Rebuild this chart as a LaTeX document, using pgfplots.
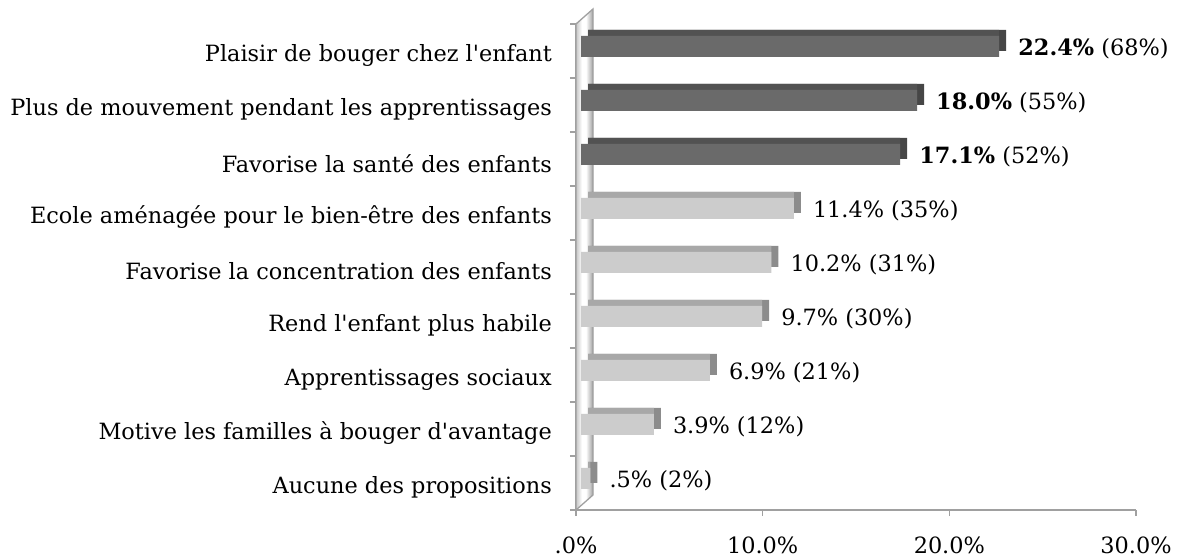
\documentclass[border=0pt]{standalone}
\usepackage{pgfplots}
\pgfplotsset{compat=1.18}
\usepackage{pgfplotstable}
\usepackage{fontspec}
\setmainfont{DejaVu Serif}
\definecolor{darkfront}{HTML}{6A6A6A}
\definecolor{darktop}{HTML}{525252}
\definecolor{darkside}{HTML}{464646}
\definecolor{lightfront}{HTML}{CCCCCC}
\definecolor{lighttop}{HTML}{A8A8A8}
\definecolor{lightside}{HTML}{8C8C8C}
\definecolor{axisgray}{HTML}{A0A0A0}
\pgfdeclarehorizontalshading{wall}{100bp}{color(0bp)=(gray!45); color(25bp)=(gray!45); color(42bp)=(white); color(54bp)=(white); color(75bp)=(gray!75); color(100bp)=(gray!75)}
\pgfplotstableread{
v y
22.4 9
18.0 8
17.1 7
}\darkdata
\pgfplotstableread{
v y
11.4 6
10.2 5
9.7 4
6.9 3
3.9 2
0.5 1
}\lightdata
\newcommand{\lbl}{\fontsize{22.4bp}{26bp}\selectfont}
\begin{document}
\lbl
\begin{tikzpicture}
\useasboundingbox (0,0) rectangle (1183bp,559bp);
\begin{axis}[
  at={(576bp,49bp)}, anchor=south west,
  scale only axis, width=560bp, height=486bp,
  xmin=0, xmax=30, ymin=0.5, ymax=9.5,
  clip=false,
  axis x line*=bottom, axis y line*=left,
  axis line style={axisgray, line width=1.3bp},
  xtick={0,10,20,30},
  xticklabels={.0\%,10.0\%,20.0\%,30.0\%},
  ytick={1,...,9},
  yticklabels={Aucune des propositions,
    Motive les familles à bouger d\textquotesingle avantage,
    Apprentissages sociaux,
    Rend l\textquotesingle enfant plus habile,
    Favorise la concentration des enfants,
    Ecole aménagée pour le bien-être des enfants,
    Favorise la santé des enfants,
    Plus de mouvement pendant les apprentissages,
    Plaisir de bouger chez l\textquotesingle enfant},
  minor xtick={0,10,20,30},
  minor ytick={0.5,1.5,...,9.5},
  major tick length=0pt,
  minor tick length=6bp,
  tick align=outside,
  minor tick style={axisgray, line width=1.3bp},
  tick label style={font=\lbl, text=black},
  yticklabel style={inner sep=0pt, xshift=-24bp, yshift=-4.5bp},
  xticklabel style={inner sep=0pt, yshift=-27bp},
]
\shadedraw[shading=wall, draw=axisgray, line width=1.3bp]
  (axis cs:0,0.5) -- (axis cs:0,9.5) -- ([xshift=17bp,yshift=15bp]axis cs:0,9.5)
  -- ([xshift=17bp,yshift=15bp]axis cs:0,0.5) -- cycle;
% dark bars
\addplot[xbar, bar shift=0pt, bar width=21bp, fill=darkside, draw=none, xshift=12bp, yshift=10.5bp] table[x=v, y=y] {\darkdata};
\addplot[xbar, bar shift=0pt, bar width=21bp, fill=darktop, draw=none, xshift=12bp, yshift=10.5bp, x filter/.expression={x-0.375}] table[x=v, y=y] {\darkdata};
\addplot[xbar, bar shift=0pt, bar width=21bp, fill=darkfront, draw=none, xshift=5bp, yshift=4.5bp] table[x=v, y=y] {\darkdata};
% light bars
\addplot[xbar, bar shift=0pt, bar width=21bp, fill=lightside, draw=none, xshift=12bp, yshift=10.5bp] table[x=v, y=y] {\lightdata};
\addplot[xbar, bar shift=0pt, bar width=21bp, fill=lighttop, draw=none, xshift=12bp, yshift=10.5bp, x filter/.expression={x-0.375}] table[x=v, y=y] {\lightdata};
\addplot[xbar, bar shift=0pt, bar width=21bp, fill=lightfront, draw=none, xshift=5bp, yshift=4.5bp] table[x=v, y=y] {\lightdata};
% value labels
\addplot[draw=none, mark=none, nodes near coords, point meta=explicit symbolic,
  every node near coord/.append style={anchor=west, inner sep=0pt, xshift=24bp, yshift=2.5bp, font=\lbl, text=black}]
  coordinates {
  (22.4,9) [{\textbf{22.4\%} (68\%)}]
  (18.0,8) [{\textbf{18.0\%} (55\%)}]
  (17.1,7) [{\textbf{17.1\%} (52\%)}]
  (11.4,6) [{11.4\% (35\%)}]
  (10.2,5) [{10.2\% (31\%)}]
  (9.7,4) [{9.7\% (30\%)}]
  (6.9,3) [{6.9\% (21\%)}]
  (3.9,2) [{3.9\% (12\%)}]
  (0.5,1) [{.5\% (2\%)}]
  };
\end{axis}
\end{tikzpicture}
\end{document}
